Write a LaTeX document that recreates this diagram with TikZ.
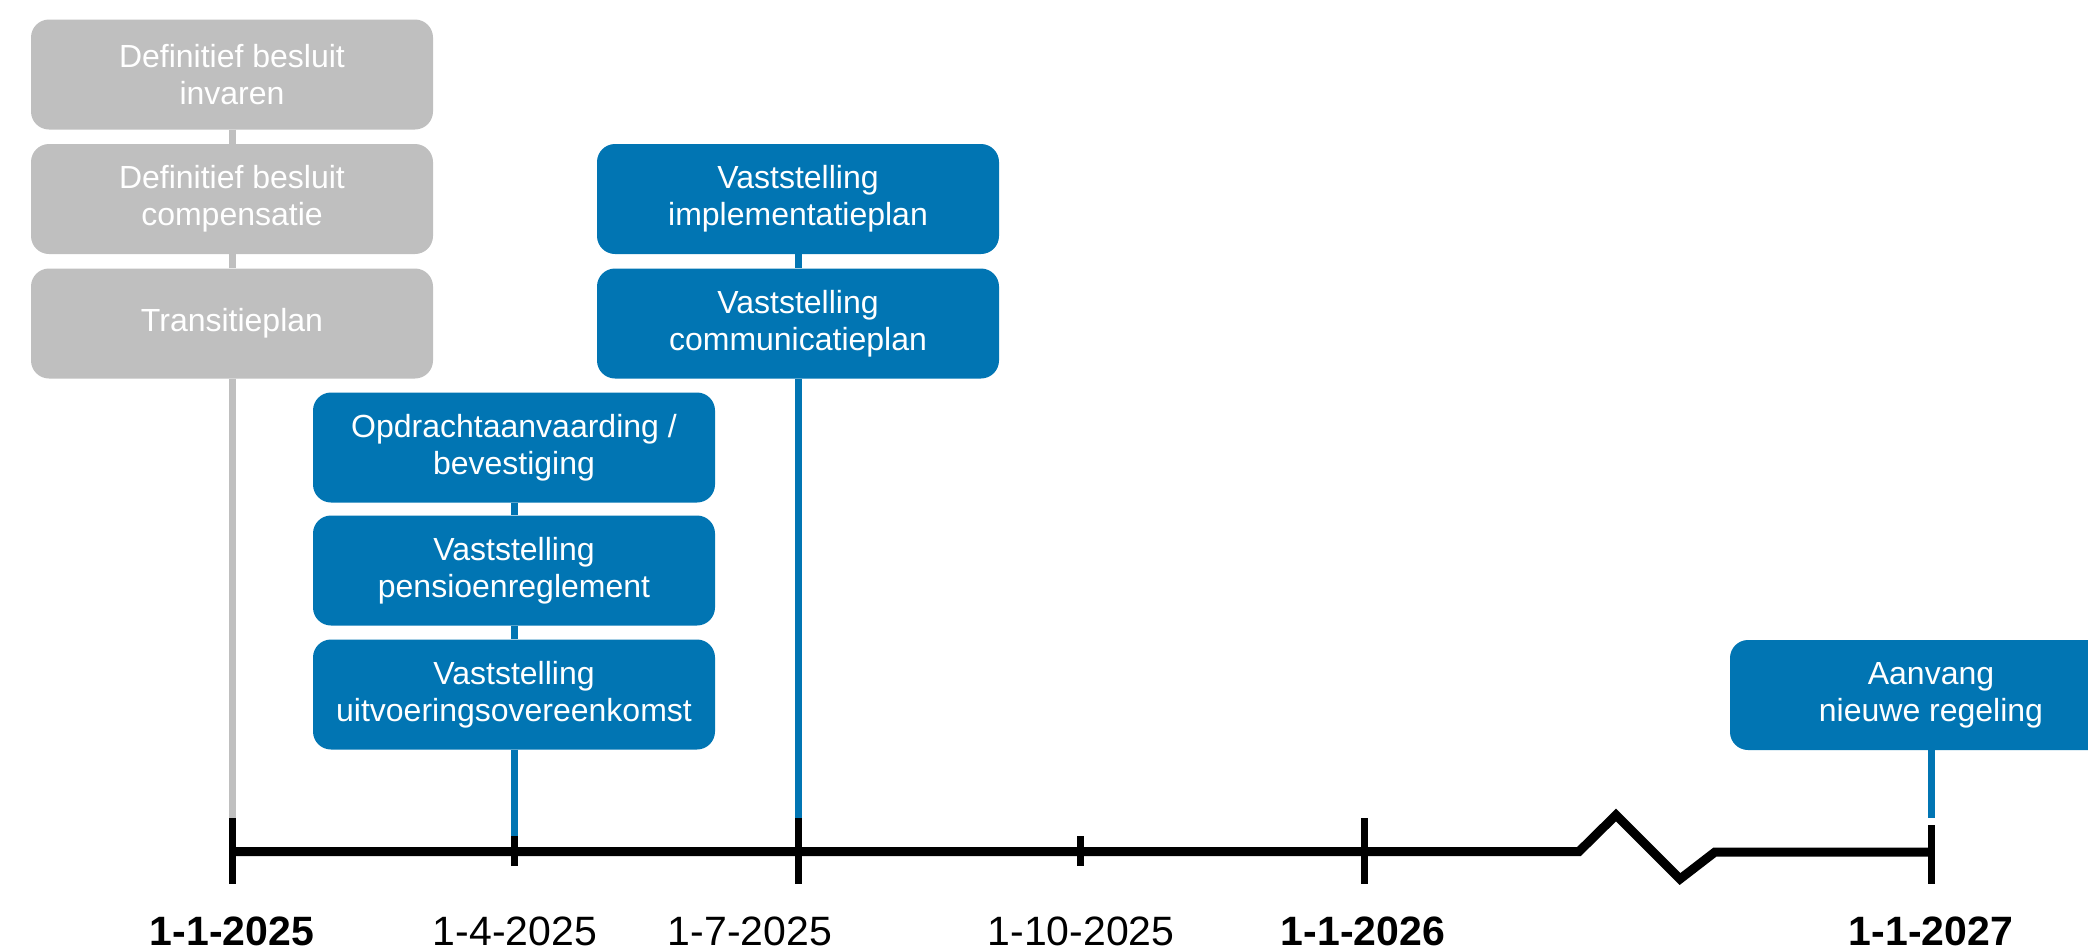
\documentclass[tikz,border=0pt]{standalone}
\usepackage{fontspec}
\setmainfont{Liberation Sans}
\definecolor{boxgrey}{HTML}{BFBFBF}
\definecolor{boxblue}{HTML}{0175B3}
\begin{document}
\begin{tikzpicture}[x=1pt,y=-1pt,
  gbox/.style={fill=boxgrey,draw=none,rounded corners=18pt,text=white,align=center,
    minimum width=402pt,minimum height=110pt,inner sep=0pt,
    font=\fontsize{32}{37}\selectfont},
  bbox/.style={gbox,fill=boxblue},
  gline/.style={draw=boxgrey,line width=7pt},
  bline/.style={draw=boxblue,line width=7pt},
  axisline/.style={draw=black,line width=9pt,miter limit=10},
  tickline/.style={draw=black,line width=7pt},
  datelabel/.style={anchor=base,inner sep=0pt,font=\fontsize{41}{45}\selectfont},
  boldlabel/.style={datelabel,font=\fontsize{41}{45}\selectfont\bfseries}]
\useasboundingbox (0,0) rectangle (2088,951);
\clip (0,0) rectangle (2088,951);
% tick coordinates on the axis
\coordinate (t1) at (232,851.5);
\coordinate (t2) at (514,851.5);
\coordinate (t3) at (798,851.5);
\coordinate (t4) at (1080,851.5);
\coordinate (t5) at (1364,851.5);
\coordinate (t6) at (1931,852);
\coordinate (t1top) at (232,818);
\coordinate (t2top) at (514,836);
\coordinate (t3top) at (798,818);
\coordinate (t6top) at (1931,818);
% boxes
\node[gbox] (g1) at (232,74.5) {Definitief besluit\\invaren};
\node[gbox] (g2) at (232,199) {Definitief besluit\\compensatie};
\node[gbox] (g3) at (232,323.5) {Transitieplan};
\node[bbox] (b1) at (514,447.5) {Opdrachtaanvaarding /\\bevestiging};
\node[bbox] (b2) at (514,570.5) {Vaststelling\\pensioenreglement};
\node[bbox] (b3) at (514,694.5) {Vaststelling\\uitvoeringsovereenkomst};
\node[bbox] (c1) at (798,199) {Vaststelling\\implementatieplan};
\node[bbox] (c2) at (798,323.5) {Vaststelling\\communicatieplan};
\node[bbox] (a1) at (1931,695) {Aanvang\\nieuwe regeling};
% connectors
\draw[gline] (g1.south) -- (g2.north);
\draw[gline] (g2.south) -- (g3.north);
\draw[gline] (g3.south) -- (t1top);
\draw[bline] (b1.south) -- (b2.north);
\draw[bline] (b2.south) -- (b3.north);
\draw[bline] (b3.south) -- (t2top);
\draw[bline] (c1.south) -- (c2.north);
\draw[bline] (c2.south) -- (t3top);
\draw[bline] (a1.south) -- (t6top);
% axis with break
\coordinate (z0) at (1579,851.5);
\coordinate (z1) at (1616,815);
\coordinate (z2) at (1680,879);
\coordinate (z3) at (1715,852);
\draw[axisline] (t1) -- (z0) -- (z1) -- (z2) -- (z3) -- (t6);
% ticks
\draw[tickline] (232,818) -- (232,884);
\draw[tickline] (514,836) -- (514,866);
\draw[tickline] (798,818) -- (798,884);
\draw[tickline] (1080,836) -- (1080,866);
\draw[tickline] (1364,818) -- (1364,884);
\draw[tickline] (1931,825) -- (1931,884);
% labels
\node[boldlabel] (l1) at (232,945) {1-1-2025};
\node[datelabel] (l2) at (515,945) {1-4-2025};
\node[datelabel] (l3) at (750,945) {1-7-2025};
\node[datelabel] (l4) at (1081,945) {1-10-2025};
\node[boldlabel] (l5) at (1363,945) {1-1-2026};
\node[boldlabel] (l6) at (1931,945) {1-1-2027};
\end{tikzpicture}
\end{document}
